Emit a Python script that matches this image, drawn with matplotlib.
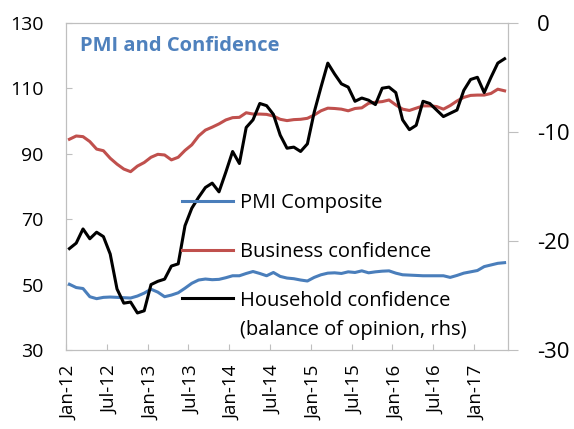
import numpy as np
import pandas as pd
import matplotlib.pyplot as plt
from matplotlib.legend_handler import HandlerLine2D

plt.rcParams['font.family'] = ['Open Sans', 'DejaVu Sans']
plt.rcParams['axes.unicode_minus'] = False

# ── data: monthly, Jan-2012 .. May-2017 ─────────────────────────
months = pd.date_range('2012-01-01', '2017-05-01', freq='MS')
tick_labels = ['Jan-12', 'Jul-12', 'Jan-13', 'Jul-13', 'Jan-14', 'Jul-14',
               'Jan-15', 'Jul-15', 'Jan-16', 'Jul-16', 'Jan-17']

pmi = [50.1, 49.1, 48.8, 46.3, 45.7, 46.1, 46.2, 46.1, 46.0, 45.9, 46.5, 47.4,
       48.6, 47.7, 46.3, 46.8, 47.5, 48.9, 50.4, 51.4, 51.7, 51.5, 51.6, 52.1,
       52.7, 52.7, 53.4, 54.0, 53.4, 52.7, 53.7, 52.5, 52.0, 51.8, 51.4, 51.1,
       52.2, 53.0, 53.5, 53.6, 53.4, 53.9, 53.7, 54.2, 53.6, 53.9, 54.1, 54.2,
       53.5, 53.0, 52.9, 52.8, 52.7, 52.7, 52.7, 52.7, 52.2, 52.8, 53.5, 53.9,
       54.3, 55.5, 56.0, 56.5, 56.7]

business = [94.4, 95.4, 95.2, 93.7, 91.4, 90.9, 88.6, 86.8, 85.3, 84.5, 86.2, 87.3,
            88.9, 89.8, 89.6, 88.1, 88.9, 91.0, 92.7, 95.4, 97.2, 98.1, 99.1, 100.3,
            101.0, 101.1, 102.5, 102.1, 102.1, 102.0, 101.5, 100.5, 100.1, 100.4, 100.5, 100.8,
            101.8, 103.1, 103.9, 103.8, 103.6, 103.1, 103.8, 104.0, 105.4, 105.7, 105.9, 106.4,
            104.9, 103.6, 103.2, 103.9, 104.6, 104.6, 104.4, 103.6, 104.7, 106.1, 107.2, 107.8,
            107.9, 107.9, 108.4, 109.7, 109.2]

household = [-20.7, -20.2, -18.9, -19.8, -19.2, -19.6, -21.2, -24.4, -25.7, -25.6, -26.6, -26.4,
             -24.0, -23.7, -23.5, -22.3, -22.1, -18.6, -17.0, -16.0, -15.1, -14.7, -15.5, -13.7,
             -11.8, -12.9, -9.6, -8.9, -7.4, -7.6, -8.4, -10.3, -11.5, -11.4, -11.8, -11.1,
             -8.2, -5.9, -3.7, -4.7, -5.6, -5.9, -7.2, -6.9, -7.1, -7.5, -6.0, -5.9,
             -6.4, -8.9, -9.8, -9.4, -7.2, -7.4, -8.0, -8.6, -8.3, -8.0, -6.2, -5.2,
             -5.0, -6.4, -5.0, -3.7, -3.3]

BLUE = '#4A7EBB'
RED = '#C0504D'
GREY = '#BFBFBF'


class FirstLineHandler(HandlerLine2D):
    """legend handle aligned with the first line of a two-line label"""
    def __init__(self, shift, **kw):
        super().__init__(**kw)
        self.shift = shift

    def create_artists(self, *args, **kw):
        artists = super().create_artists(*args, **kw)
        for a in artists:
            a.set_ydata(np.asarray(a.get_ydata()) + self.shift)
        return artists


x = np.arange(len(months))

fig = plt.figure(figsize=(5.74, 4.29), dpi=100)
ax = fig.add_axes([0.115, 0.184, 0.770, 0.763])
ax2 = ax.twinx()

l1, = ax.plot(x, pmi, color=BLUE, lw=2.2, solid_joinstyle='round')
l2, = ax.plot(x, business, color=RED, lw=2.2, solid_joinstyle='round')
l3, = ax2.plot(x, household, color='black', lw=2.2, solid_joinstyle='round')

ax.set_xlim(-0.5, len(x) - 0.5)
ax.set_ylim(30, 130)
ax2.set_ylim(-30, 0)

ax.set_yticks(range(30, 131, 20))
ax2.set_yticks(range(-30, 1, 10))

# category axis: ticks between months, labels on the month
ax.set_xticks(np.arange(-0.5, 60, 6))
ax.set_xticklabels([])
ax.set_xticks(np.arange(0, 61, 6), minor=True)
ax.set_xticklabels(tick_labels, minor=True, rotation=90)
ax.tick_params(axis='x', which='major', direction='in', length=4, color=GREY)
ax.tick_params(axis='x', which='minor', length=0, pad=11, labelsize=13.5)
ax.tick_params(axis='y', direction='in', length=4, color=GREY, pad=16, labelsize=14)
ax2.tick_params(axis='y', direction='out', length=7, color=GREY, pad=14, labelsize=16)

for sp in ax.spines.values():
    sp.set_color(GREY)
for sp in ax2.spines.values():
    sp.set_color(GREY)

ax.text(0.032, 0.93, 'PMI and Confidence', transform=ax.transAxes,
        color='#4F81BD', fontsize=14.5, fontweight='bold', va='center')

leg = ax2.legend([l1, l2, l3],
                 ['PMI Composite', 'Business confidence',
                  'Household confidence\n(balance of opinion, rhs)'],
                 handler_map={l3: FirstLineHandler(shift=12.7)},
                 loc='upper left', bbox_to_anchor=(0.262, 0.48),
                 frameon=False, fontsize=14.5, handlelength=2.53,
                 handletextpad=0.35, labelspacing=1.45,
                 borderpad=0, borderaxespad=0)
leg.get_texts()[2].set_linespacing(1.57)

fig.savefig('out.png', dpi=100)
